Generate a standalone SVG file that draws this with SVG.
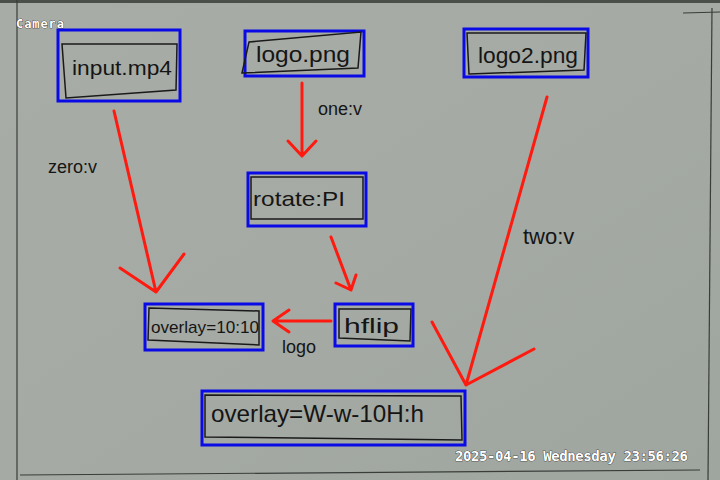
<svg xmlns="http://www.w3.org/2000/svg" width="720" height="480" viewBox="0 0 720 480">
<defs>
<linearGradient id="bg" x1="0" y1="0" x2="1" y2="1">
<stop offset="0" stop-color="#a8aca6"/>
<stop offset="0.5" stop-color="#a5aaa4"/>
<stop offset="1" stop-color="#9fa59f"/>
</linearGradient>
<style>
.frame{fill:none;stroke:#0a0ae6;stroke-width:3}
.hand{fill:none;stroke:#1a1a1a;stroke-width:1.5}
.lbl{font-family:"Liberation Sans",sans-serif;fill:#151515;font-weight:normal}
.red{fill:none;stroke:#ff1a10;stroke-width:3;stroke-linecap:round;stroke-linejoin:round}
.osd{font-family:"DejaVu Sans Mono","Liberation Mono",monospace;font-weight:bold;fill:#ffffff;stroke:#000;stroke-width:0.6;paint-order:stroke}
.board{fill:none;stroke:#3a3d3a;stroke-width:1.2}
</style>
</defs>
<rect x="0" y="0" width="720" height="480" fill="url(#bg)"/>
<rect x="0" y="0" width="720" height="3" fill="#4a4f4a"/>
<g id="board-lines">
<path class="board" d="M17 0 L17 480"/>
<path class="board" d="M712 8 L708 480"/>
<path class="board" d="M683 13 L720 12"/>
<path class="board" d="M20 475 L700 470"/>
</g>
<g id="connectors">
<path class="red" d="M114 111 L156 292 M120 268 L156 292 L184 254"/>
<path class="red" d="M302 83 L302 156 M288 141 L302 156 L316 141"/>
<path class="red" d="M331 237 L351 290 M336 283 L351 290 L356 275"/>
<path class="red" d="M331 321 L273 321 M289 310 L273 321 L289 332"/>
<path class="red" d="M547 97 L466 385 M432 322 L466 385 L534 349"/>
<text class="lbl" x="48" y="173" font-size="18">zero:v</text>
<text class="lbl" x="318" y="115" font-size="18">one:v</text>
<text class="lbl" x="523" y="244" font-size="22">two:v</text>
<text class="lbl" x="282" y="353" font-size="18">logo</text>
</g>
<g id="input">
<rect class="frame" x="58" y="30" width="122" height="71"/>
<path class="hand" d="M62 44 L177 44 L176 90 L66 98 Z"/>
<text class="lbl" x="72" y="75" font-size="21" textLength="100" lengthAdjust="spacingAndGlyphs">input.mp4</text>
</g>
<g id="logo">
<rect class="frame" x="245" y="31" width="119" height="45"/>
<path class="hand" d="M249 42 L361 32 L358 68 L242 73 Z"/>
<text class="lbl" x="256" y="62" font-size="22" textLength="94" lengthAdjust="spacingAndGlyphs">logo.png</text>
</g>
<g id="logo2">
<rect class="frame" x="464" y="29" width="124" height="48"/>
<path class="hand" d="M467 33 L586 33 L584 70 L469 74 Z"/>
<text class="lbl" x="478" y="63" font-size="22" textLength="100" lengthAdjust="spacingAndGlyphs">logo2.png</text>
</g>
<g id="rotate">
<rect class="frame" x="248" y="173" width="118" height="53"/>
<path class="hand" d="M251 177 L363 177 L363 219 L251 219 Z"/>
<text class="lbl" x="253" y="206" font-size="21" textLength="92" lengthAdjust="spacingAndGlyphs">rotate:PI</text>
</g>
<g id="hflip">
<rect class="frame" x="335" y="304" width="78" height="42"/>
<path class="hand" d="M339 309 L411 309 L410 341 L339 338 Z"/>
<text class="lbl" x="344" y="333" font-size="21" textLength="55" lengthAdjust="spacingAndGlyphs">hflip</text>
</g>
<g id="overlay1">
<rect class="frame" x="145" y="304" width="118" height="46"/>
<path class="hand" d="M149 308 L259 311 L259 345 L148 340 Z"/>
<text class="lbl" x="151" y="333" font-size="17" textLength="108" lengthAdjust="spacingAndGlyphs">overlay=10:10</text>
</g>
<g id="overlay2">
<rect class="frame" x="202" y="391" width="263" height="54"/>
<path class="hand" d="M205 395 L461 396 L462 440 L205 437 Z"/>
<text class="lbl" x="211" y="422" font-size="24" textLength="213" lengthAdjust="spacingAndGlyphs">overlay=W-w-10H:h</text>
</g>
<text class="osd" x="16" y="28" font-size="12" textLength="48">Camera</text>
<text class="osd" x="455" y="461" font-size="14" textLength="233">2025-04-16 Wednesday 23:56:26</text>
</svg>
